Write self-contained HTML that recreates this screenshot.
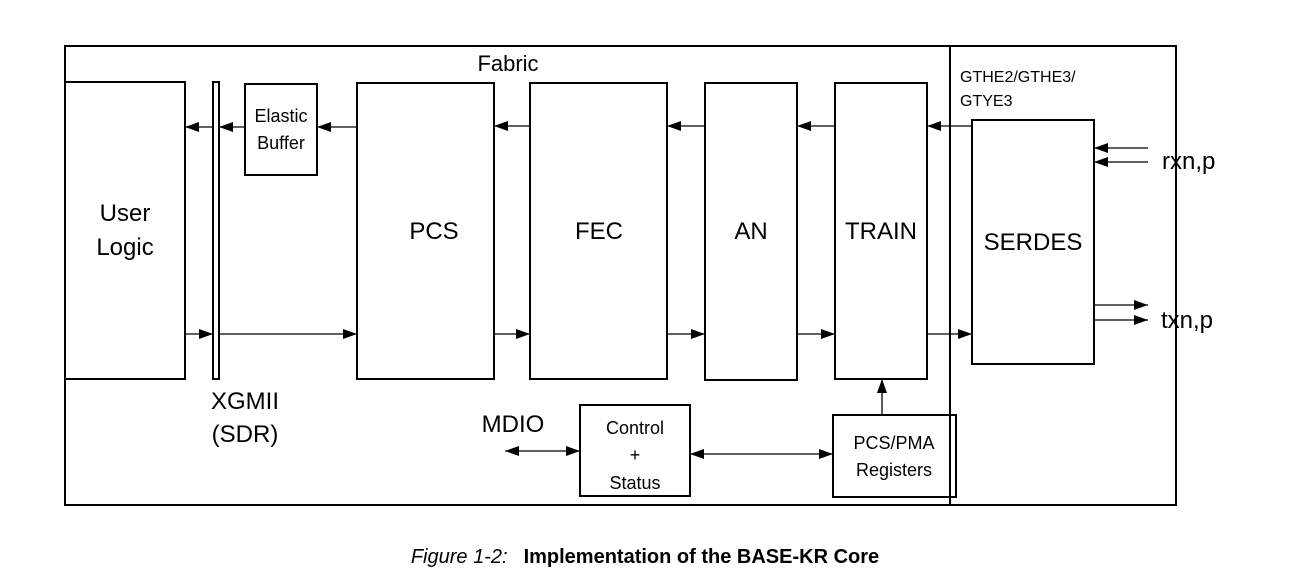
<!DOCTYPE html>
<html><head><style>body{margin:0;background:#fff}svg{display:block}</style></head>
<body>
<svg width="1289" height="579" viewBox="0 0 1289 579" xmlns="http://www.w3.org/2000/svg" font-family="Liberation Sans, Arial, sans-serif">
<defs>
<marker id="a" markerWidth="14" markerHeight="10" refX="14" refY="5" orient="auto" markerUnits="userSpaceOnUse"><path d="M0,0 L14,5 L0,10 z" fill="#000"/></marker>
<marker id="s" markerWidth="14" markerHeight="10" refX="0" refY="5" orient="auto" markerUnits="userSpaceOnUse"><path d="M14,0 L0,5 L14,10 z" fill="#000"/></marker>
</defs>
<g fill="none" stroke="#000" stroke-width="2">
<rect x="65" y="46" width="1111" height="459"/>
<line x1="950" y1="46" x2="950" y2="505"/>
<rect x="65" y="82" width="120" height="297"/>
<rect x="213" y="82" width="6" height="297"/>
<rect x="245" y="84" width="72" height="91"/>
<rect x="357" y="83" width="137" height="296"/>
<rect x="530" y="83" width="137" height="296"/>
<rect x="705" y="83" width="92" height="297"/>
<rect x="835" y="83" width="92" height="296"/>
<rect x="972" y="120" width="122" height="244"/>
<rect x="580" y="405" width="110" height="91"/>
<rect x="833" y="415" width="123" height="82"/>
</g>
<g stroke="#000" stroke-width="1.3">
<line x1="213" y1="127" x2="185" y2="127" marker-end="url(#a)"/>
<line x1="245" y1="127" x2="219" y2="127" marker-end="url(#a)"/>
<line x1="357" y1="127" x2="317" y2="127" marker-end="url(#a)"/>
<line x1="530" y1="126" x2="494" y2="126" marker-end="url(#a)"/>
<line x1="705" y1="126" x2="667" y2="126" marker-end="url(#a)"/>
<line x1="835" y1="126" x2="797" y2="126" marker-end="url(#a)"/>
<line x1="972" y1="126" x2="927" y2="126" marker-end="url(#a)"/>
<line x1="185" y1="334" x2="213" y2="334" marker-end="url(#a)"/>
<line x1="219" y1="334" x2="357" y2="334" marker-end="url(#a)"/>
<line x1="494" y1="334" x2="530" y2="334" marker-end="url(#a)"/>
<line x1="667" y1="334" x2="705" y2="334" marker-end="url(#a)"/>
<line x1="797" y1="334" x2="835" y2="334" marker-end="url(#a)"/>
<line x1="927" y1="334" x2="972" y2="334" marker-end="url(#a)"/>
<line x1="1148" y1="148" x2="1094" y2="148" marker-end="url(#a)"/>
<line x1="1148" y1="162" x2="1094" y2="162" marker-end="url(#a)"/>
<line x1="1094" y1="305" x2="1148" y2="305" marker-end="url(#a)"/>
<line x1="1094" y1="320" x2="1148" y2="320" marker-end="url(#a)"/>
<line x1="882" y1="415" x2="882" y2="379" marker-end="url(#a)"/>
<line x1="505" y1="451" x2="580" y2="451" marker-start="url(#s)" marker-end="url(#a)"/>
<line x1="690" y1="454" x2="833" y2="454" marker-start="url(#s)" marker-end="url(#a)"/>
</g>
<g fill="#000" text-anchor="middle">
<text x="508" y="71" font-size="22">Fabric</text>
<text x="125" y="221" font-size="24">User</text>
<text x="125" y="255" font-size="24">Logic</text>
<text x="281" y="122" font-size="18">Elastic</text>
<text x="281" y="149" font-size="18">Buffer</text>
<text x="434" y="239" font-size="24">PCS</text>
<text x="599" y="239" font-size="24">FEC</text>
<text x="751" y="239" font-size="24">AN</text>
<text x="881" y="239" font-size="24">TRAIN</text>
<text x="1033" y="250" font-size="24">SERDES</text>
<text x="245" y="409" font-size="24">XGMII</text>
<text x="245" y="442" font-size="24">(SDR)</text>
<text x="513" y="432" font-size="24">MDIO</text>
<text x="635" y="434" font-size="18">Control</text>
<text x="635" y="461" font-size="18">+</text>
<text x="635" y="489" font-size="18">Status</text>
<text x="894" y="449" font-size="18">PCS/PMA</text>
<text x="894" y="476" font-size="18">Registers</text>
</g>
<g fill="#000" font-size="24">
<text x="1162" y="169">rxn,p</text>
<text x="1161" y="328">txn,p</text>
</g>
<g fill="#000" font-size="16">
<text x="960" y="82">GTHE2/GTHE3/</text>
<text x="960" y="106">GTYE3</text>
</g>
<text x="645" y="563" text-anchor="middle" font-size="20"><tspan font-style="italic">Figure 1-2:</tspan><tspan dx="16" font-weight="bold">Implementation of the BASE-KR Core</tspan></text>
</svg>
</body></html>
